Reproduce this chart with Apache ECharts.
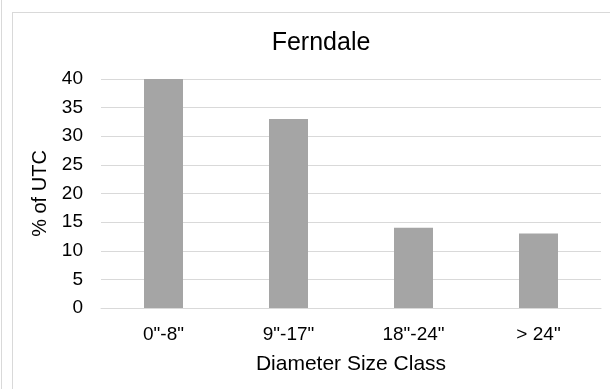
<!DOCTYPE html>
<html>
<head>
<meta charset="utf-8">
<script src="https://cdn.jsdelivr.net/npm/echarts@6/dist/echarts.min.js"></script>
<style>
html,body{margin:0;padding:0;background:#fff;}
#c{width:610px;height:389px;}
</style>
</head>
<body>
<div id="c"></div>
<script>
const categories = ['0"-8"', '9"-17"', '18"-24"', '> 24"'];
const values = [40, 33, 14, 13];
const chartTitle = 'Ferndale';
const xName = 'Diameter Size Class';
const yName = '% of UTC';

const FONT = '"Liberation Sans", Arial, sans-serif';
const chart = echarts.init(document.getElementById('c'), null, {renderer: 'canvas'});
chart.setOption({
  animation: false,
  backgroundColor: '#fff',
  title: {
    text: chartTitle,
    left: 316, top: 26, textAlign: 'center',
    textStyle: {fontFamily: FONT, fontSize: 25, fontWeight: 'normal', color: '#000'}
  },
  graphic: [
    {type: 'line', shape: {x1: 1.5, y1: 0, x2: 1.5, y2: 389}, style: {stroke: '#d9d9d9', lineWidth: 1}},
    {type: 'line', shape: {x1: 12.5, y1: 12, x2: 12.5, y2: 389}, style: {stroke: '#d9d9d9', lineWidth: 1}},
    {type: 'line', shape: {x1: 12, y1: 12.5, x2: 610, y2: 12.5}, style: {stroke: '#d9d9d9', lineWidth: 1}}
  ],
  grid: {left: 101, right: 9, top: 79, bottom: 81, containLabel: false},
  xAxis: {
    type: 'category',
    data: categories,
    name: xName,
    nameLocation: 'middle',
    nameGap: 46,
    nameTextStyle: {fontFamily: FONT, fontSize: 21, color: '#000'},
    axisLine: {show: true, lineStyle: {color: '#d9d9d9', width: 1}},
    axisTick: {show: false},
    axisLabel: {fontFamily: FONT, fontSize: 19, color: '#000', margin: 17}
  },
  yAxis: {
    type: 'value',
    min: 0, max: 40, interval: 5,
    name: yName,
    nameLocation: 'middle',
    nameGap: 43,
    nameTextStyle: {fontFamily: FONT, fontSize: 20, color: '#000'},
    axisLine: {show: false},
    axisTick: {show: false},
    axisLabel: {fontFamily: FONT, fontSize: 19, color: '#000', margin: 18},
    splitLine: {show: true, lineStyle: {color: '#d9d9d9', width: 1}}
  },
  series: [{
    type: 'bar',
    data: values,
    barWidth: 39,
    itemStyle: {color: '#a5a5a5'}
  }]
});
</script>
</body>
</html>
